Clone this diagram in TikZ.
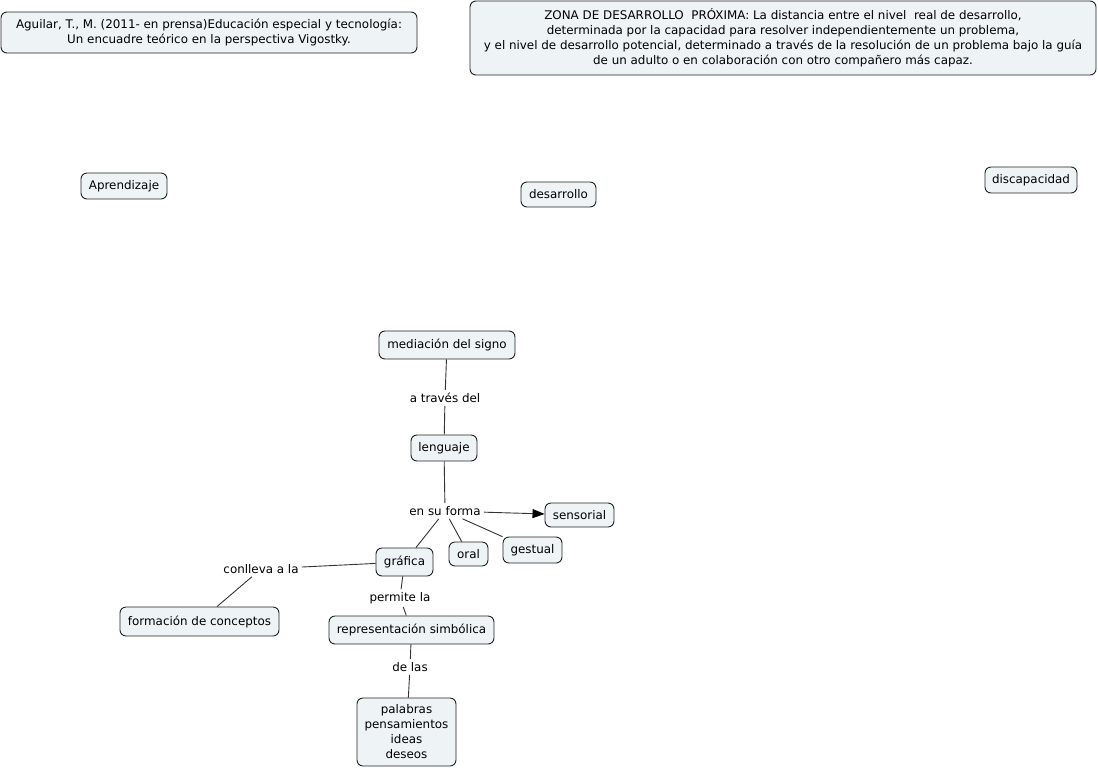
\documentclass[tikz,border=0pt]{standalone}
\usepackage{fontspec}
\setmainfont{DejaVu Sans}
\usetikzlibrary{arrows.meta}
\definecolor{boxfill}{HTML}{EEF3F5}
\definecolor{boxline}{HTML}{222222}
\definecolor{linkcol}{HTML}{333333}
\tikzset{
  concept/.style={draw=boxline, fill=boxfill, rounded corners=6pt, line width=0.9pt,
    inner xsep=5pt, inner ysep=4pt, align=center, font=\fontsize{11.9}{15}\selectfont},
  linklabel/.style={inner sep=3pt, font=\fontsize{11.9}{15}\selectfont},
  link/.style={draw=linkcol, line width=0.9pt},
  linkarrow/.style={link, -{Triangle[length=12pt,width=9pt,color=black]}}
}
\begin{document}
\begin{tikzpicture}[x=1pt,y=-1pt]
\useasboundingbox (0,0) rectangle (1098,769);
\node[concept, minimum width=416pt, minimum height=41pt] (ref) at (209,32.5)
  {Aguilar, T., M. (2011- en prensa)Educación especial y tecnología:\\Un encuadre teórico en la perspectiva Vigostky.};
\node[concept, minimum width=626pt, minimum height=74pt] (zona) at (783,38)
  {ZONA DE DESARROLLO\ \ PRÓXIMA: La distancia entre el nivel\ \ real de desarrollo,\\
   determinada por la capacidad para resolver independientemente un problema,\\
   y el nivel de desarrollo potencial, determinado a través de la resolución de un problema bajo la guía\\
   de un adulto o en colaboración con otro compañero más capaz.};
\node[concept, minimum width=86pt, minimum height=26pt] (apr) at (124,186) {Aprendizaje};
\node[concept, minimum width=75pt, minimum height=25pt] (des) at (558.5,194.5) {desarrollo};
\node[concept, minimum width=92pt, minimum height=26pt] (dis) at (1031,180) {discapacidad};
\node[concept, minimum width=136pt, minimum height=28pt] (med) at (447,345) {mediación del signo};
\node[linklabel] (atr) at (445,398) {a través del};
\node[concept, minimum width=66pt, minimum height=26pt] (len) at (444,448) {lenguaje};
\node[linklabel] (esf) at (445,511) {en su forma};
\node[concept, minimum width=69pt, minimum height=24pt] (sen) at (579.5,515) {sensorial};
\node[concept, minimum width=57pt, minimum height=28pt] (gra) at (404.5,562) {gráfica};
\node[concept, minimum width=39pt, minimum height=24pt] (ora) at (468.5,554) {oral};
\node[concept, minimum width=59pt, minimum height=26pt] (ges) at (532.5,550) {gestual};
\node[linklabel] (con) at (261,569) {conlleva a la};
\node[concept, minimum width=159pt, minimum height=29pt] (for) at (199.5,621.5) {formación de conceptos};
\node[linklabel] (per) at (400,598) {permite la};
\node[concept, minimum width=165pt, minimum height=28pt] (rep) at (411.5,630) {representación simbólica};
\node[linklabel] (del) at (410,667) {de las};
\node[concept, minimum width=99pt, minimum height=68pt] (pal) at (406.5,732) {palabras\\pensamientos\\ideas\\deseos};
\draw[link] (med) -- (atr);
\draw[link] (atr) -- (len);
\draw[link] (len) -- (esf);
\draw[linkarrow] (esf) -- (sen);
\draw[link] (esf) -- (gra);
\draw[link] (esf) -- (ora);
\draw[link] (esf) -- (ges);
\draw[link] (gra) -- (con);
\draw[link] (con) -- (for);
\draw[link] (gra) -- (per);
\draw[link] (per) -- (rep);
\draw[link] (rep) -- (del);
\draw[link] (del) -- (pal);
\end{tikzpicture}
\end{document}
